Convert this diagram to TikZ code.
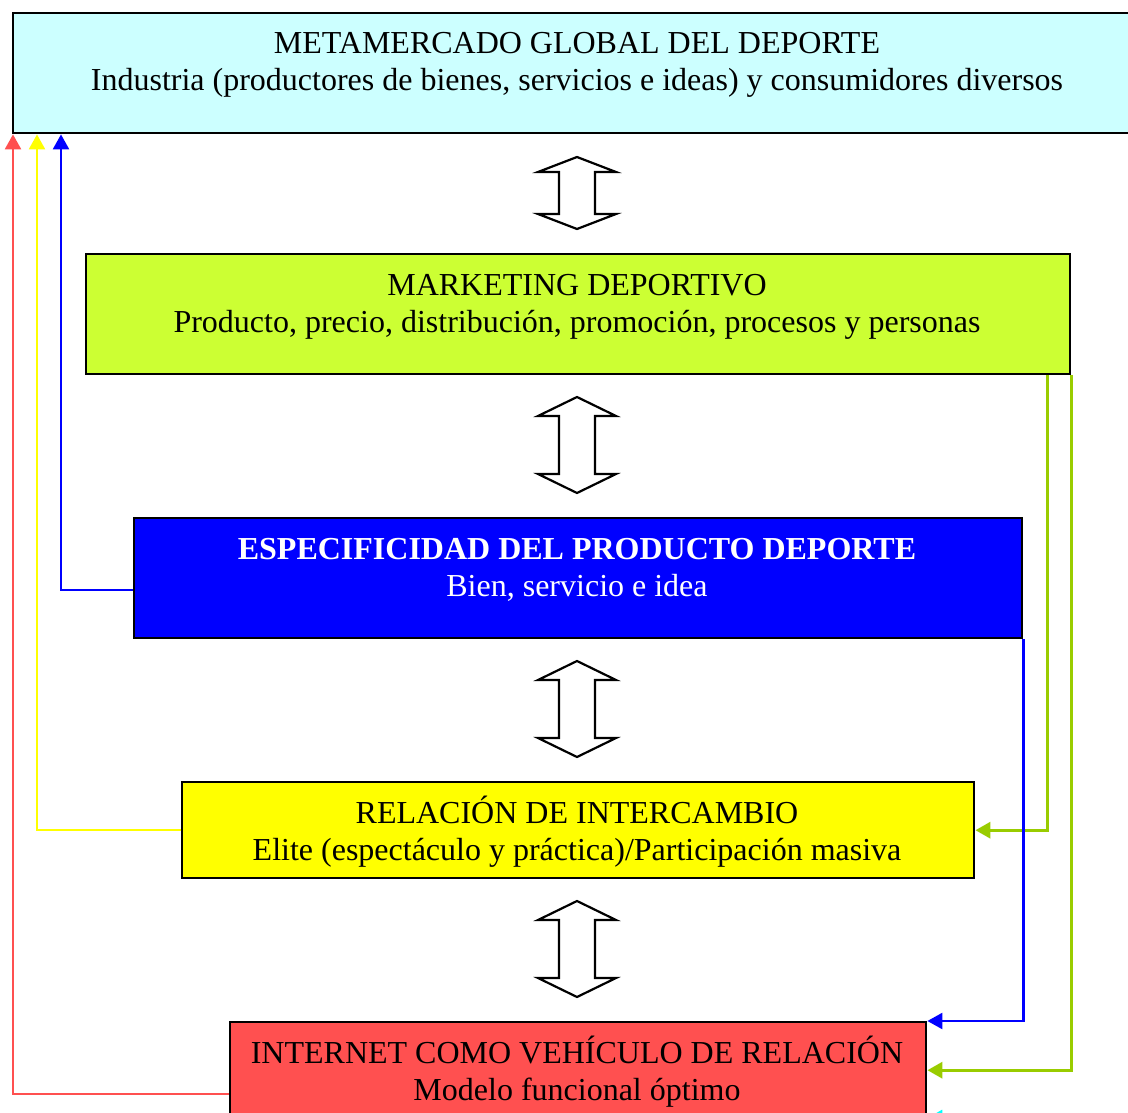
\documentclass[tikz,border=0pt]{standalone}
\usepackage{fontspec}
\setmainfont{Liberation Serif}
\usetikzlibrary{arrows.meta}
\definecolor{cmeta}{HTML}{CCFFFF}
\definecolor{cmkt}{HTML}{CCFF33}
\definecolor{cesp}{HTML}{0000FF}
\definecolor{crel}{HTML}{FFFF00}
\definecolor{cinet}{HTML}{FF5050}
\definecolor{lred}{HTML}{FF5050}
\definecolor{lyel}{HTML}{FFFF00}
\definecolor{lblu}{HTML}{0000FF}
\definecolor{lgrn}{HTML}{99CC00}
\definecolor{lcya}{HTML}{00FFFF}
\begin{document}
\begin{tikzpicture}[x=1pt,y=-1pt,
  box/.style={draw=black,line width=2.4pt,rectangle,inner sep=0pt,anchor=north west},
  txt/.style={anchor=base,inner sep=0pt,font=\fontsize{32}{38}\selectfont},
  conn/.style={line width=2.4pt,-{Triangle[length=15pt,width=16pt]}},
  dbl/.style={draw=black,line width=2.2pt,fill=white,line join=miter}]
\useasboundingbox (0,0) rectangle (1128,1113);
% boxes
\node[box,fill=cmeta,minimum width=1140pt,minimum height=120pt] (meta) at (12,12) {};
\node[box,fill=cmkt,minimum width=984pt,minimum height=120pt] (mkt) at (85,253) {};
\node[box,fill=cesp,minimum width=888pt,minimum height=120pt] (esp) at (133,517) {};
\node[box,fill=crel,minimum width=792pt,minimum height=96pt] (rel) at (181,781) {};
\node[box,fill=cinet,minimum width=696pt,minimum height=144pt] (inet) at (229,1021) {};
% texts
\node[txt] (t1a) at (577,54) {METAMERCADO GLOBAL DEL DEPORTE};
\node[txt] (t1b) at (577,91) {Industria (productores de bienes, servicios e ideas) y consumidores diversos};
\node[txt] (t2a) at (577,295) {MARKETING DEPORTIVO};
\node[txt] (t2b) at (577,332) {Producto, precio, distribución, promoción, procesos y personas};
\node[txt,text=white,font=\fontsize{32}{38}\selectfont\bfseries] (t3a) at (577,559) {ESPECIFICIDAD DEL PRODUCTO DEPORTE};
\node[txt,text=white] (t3b) at (577,596) {Bien, servicio e idea};
\node[txt] (t4a) at (577,823) {RELACIÓN DE INTERCAMBIO};
\node[txt] (t4b) at (577,860) {Elite (espectáculo y práctica)/Participación masiva};
\node[txt] (t5a) at (577,1063) {INTERNET COMO VEHÍCULO DE RELACIÓN};
\node[txt] (t5b) at (577,1100) {Modelo funcional óptimo};
% double arrows
\foreach \cy/\h/\hh in {193/36/15, 445/48/19, 709/48/19, 949/48/19}{
  \draw[dbl] (577,\cy-\h) -- (577+39,\cy-\h+\hh) -- (577+18,\cy-\h+\hh) -- (577+18,\cy+\h-\hh)
    -- (577+39,\cy+\h-\hh) -- (577,\cy+\h) -- (577-39,\cy+\h-\hh) -- (577-18,\cy+\h-\hh)
    -- (577-18,\cy-\h+\hh) -- (577-39,\cy-\h+\hh) -- cycle;
}
% connectors to the top box
\draw[conn,color=lred] (inet.west) -| ([xshift=1pt]meta.south west);
\draw[conn,color=lyel] (rel.west) -| ([xshift=25pt]meta.south west);
\draw[conn,color=lblu] ([yshift=-12pt]esp.west) -| ([xshift=49pt]meta.south west);
% connectors on the right
\draw[conn,color=lgrn,line width=3.2pt] ([xshift=-24pt]mkt.south east) |- (rel.east);
\draw[conn,color=lgrn,line width=3.2pt] (mkt.south east) |- ([yshift=24pt]inet.east);
\draw[conn,color=lblu] (esp.south east) |- (inet.north east);
\coordinate (cy0) at (990,1117);
\draw[conn,color=lcya] (cy0) -- ([yshift=-24pt]inet.east);
\end{tikzpicture}
\end{document}
